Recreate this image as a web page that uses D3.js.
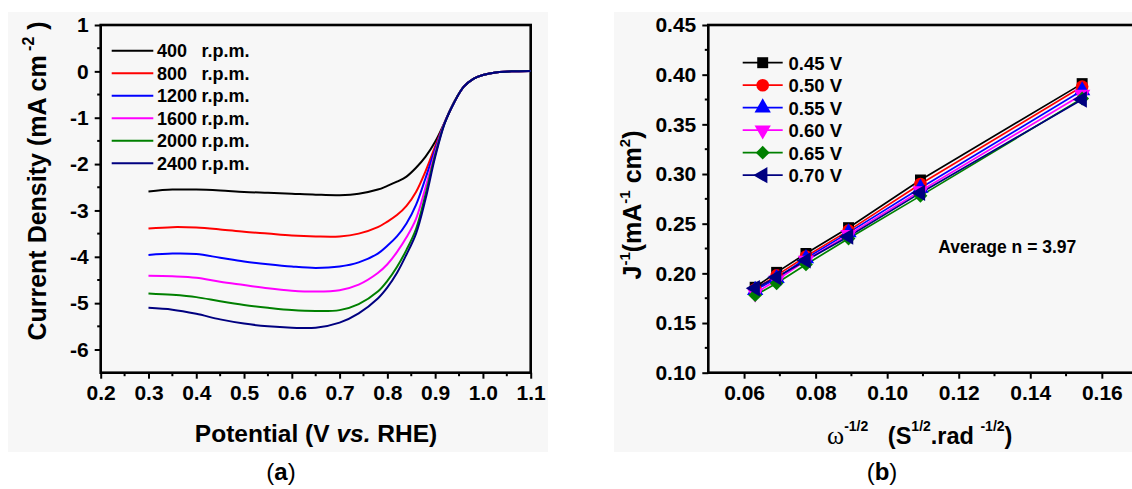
<!DOCTYPE html>
<html>
<head>
<meta charset="utf-8">
<script src="https://cdn.jsdelivr.net/npm/d3@7"></script>
<style>
  html, body { margin: 0; padding: 0; background: #ffffff; }
  svg { display: block; }
  text { font-family: "Liberation Sans", Arial, sans-serif; white-space: pre; }
</style>
</head>
<body>
<svg id="fig" width="1132" height="489"></svg>
<script>
// ---------- Panel (a): LSV curves at different rotation rates ----------
const rpmLabels = ["400", "800", "1200", "1600", "2000", "2400"];
const lsvColors = ["#000000", "#ff0000", "#0000ff", "#ff00ff", "#008000", "#000080"];
const potential = [0.30, 0.35, 0.40, 0.45, 0.50, 0.55, 0.60, 0.65, 0.70, 0.74, 0.78, 0.80,
                   0.82, 0.84, 0.86, 0.88, 0.90, 0.92, 0.94, 0.96, 0.98, 1.00, 1.03, 1.06, 1.10];
const j400  = [-2.59, -2.55, -2.55, -2.57, -2.60, -2.62, -2.64, -2.66, -2.67, -2.64, -2.55, -2.47,
               -2.38, -2.27, -2.08, -1.84, -1.52, -1.10, -0.66, -0.33, -0.16, -0.08, -0.02, 0.00, 0.01];
const j800  = [-3.39, -3.36, -3.37, -3.41, -3.46, -3.50, -3.54, -3.56, -3.56, -3.50, -3.36, -3.24,
               -3.10, -2.90, -2.60, -2.15, -1.62, -1.10, -0.66, -0.33, -0.16, -0.08, -0.02, 0.00, 0.01];
const j1200 = [-3.96, -3.93, -3.94, -4.02, -4.10, -4.16, -4.21, -4.24, -4.21, -4.12, -3.93, -3.76,
               -3.56, -3.28, -2.88, -2.30, -1.68, -1.10, -0.66, -0.33, -0.16, -0.08, -0.02, 0.00, 0.01];
const j1600 = [-4.41, -4.42, -4.45, -4.54, -4.61, -4.68, -4.73, -4.75, -4.72, -4.60, -4.35, -4.16,
               -3.90, -3.58, -3.18, -2.50, -1.75, -1.10, -0.66, -0.33, -0.16, -0.08, -0.02, 0.00, 0.01];
const j2000 = [-4.79, -4.82, -4.87, -4.96, -5.04, -5.10, -5.15, -5.17, -5.15, -5.02, -4.75, -4.52,
               -4.22, -3.85, -3.40, -2.65, -1.80, -1.11, -0.66, -0.33, -0.16, -0.08, -0.02, 0.00, 0.01];
const j2400 = [-5.10, -5.14, -5.23, -5.35, -5.44, -5.50, -5.53, -5.53, -5.42, -5.22, -4.90, -4.66,
               -4.35, -3.95, -3.50, -2.75, -1.85, -1.12, -0.67, -0.33, -0.16, -0.08, -0.02, 0.00, 0.01];
const lsvSeries = [j400, j800, j1200, j1600, j2000, j2400];
const lsvXTicks = [0.2, 0.3, 0.4, 0.5, 0.6, 0.7, 0.8, 0.9, 1.0, 1.1];
const lsvYTicks = [-6, -5, -4, -3, -2, -1, 0, 1];

// ---------- Panel (b): Koutecky-Levich plots ----------
const klLabels = ["0.45 V", "0.50 V", "0.55 V", "0.60 V", "0.65 V", "0.70 V"];
const klColors = ["#000000", "#ff0000", "#0000ff", "#ff00ff", "#008000", "#000080"];
const omegaInvSqrt = [0.0631, 0.0691, 0.0773, 0.0892, 0.1093, 0.1545];
const kl045 = [0.186, 0.201, 0.220, 0.246, 0.294, 0.391];
const kl050 = [0.184, 0.198, 0.217, 0.243, 0.290, 0.388];
const kl055 = [0.183, 0.195, 0.215, 0.241, 0.286, 0.384];
const kl060 = [0.180, 0.193, 0.213, 0.239, 0.283, 0.380];
const kl065 = [0.178, 0.190, 0.209, 0.235, 0.278, 0.376];
const kl070 = [0.185, 0.196, 0.213, 0.237, 0.281, 0.375];
const klSeries = [kl045, kl050, kl055, kl060, kl065, kl070];
const klXTicks = [0.06, 0.08, 0.10, 0.12, 0.14, 0.16];
const klYTicks = [0.10, 0.15, 0.20, 0.25, 0.30, 0.35, 0.40, 0.45];

const svg = d3.select("#fig");
const panelFill = "#f7f7f7";
const tickFont = 21;

// light panel backgrounds
svg.append("rect").attr("x", 8).attr("y", 12).attr("width", 540).attr("height", 440).attr("fill", panelFill);
svg.append("rect").attr("x", 614).attr("y", 12).attr("width", 518).attr("height", 440).attr("fill", panelFill);

function styleAxis(g, fontSize) {
  g.select(".domain").remove();
  g.selectAll(".tick line").attr("stroke", "#000").attr("stroke-width", 2);
  g.selectAll(".tick text")
    .attr("fill", "#000")
    .attr("font-family", "'Liberation Sans', Arial, sans-serif")
    .attr("font-weight", "bold")
    .attr("font-size", fontSize);
}

function minorTicks(g, values, scale, orient, len) {
  g.selectAll(null).data(values).enter().append("line")
    .attr("stroke", "#000").attr("stroke-width", 2)
    .each(function (d) {
      const s = d3.select(this);
      if (orient === "bottom") s.attr("x1", scale(d)).attr("x2", scale(d)).attr("y1", 0).attr("y2", len);
      else s.attr("y1", scale(d)).attr("y2", scale(d)).attr("x1", 0).attr("x2", -len);
    });
}

// ===== Panel (a) =====
const xL = d3.scaleLinear().domain([0.2, 1.1]).range([100.7, 530.7]);
const yL = d3.scaleLinear().domain([-6.5, 1]).range([372.7, 25]);

const gxL = svg.append("g").attr("transform", `translate(0,${yL(-6.5)})`)
  .call(d3.axisBottom(xL).tickValues(lsvXTicks).tickFormat(d3.format(".1f")).tickSize(6).tickPadding(6));
styleAxis(gxL, tickFont);
minorTicks(gxL, d3.range(0.25, 1.1, 0.1), xL, "bottom", 3.5);

const gyL = svg.append("g").attr("transform", `translate(${xL(0.2)},0)`)
  .call(d3.axisLeft(yL).tickValues(lsvYTicks).tickFormat(d => String(d)).tickSize(6).tickPadding(6));
styleAxis(gyL, tickFont);
minorTicks(gyL, d3.range(-5.5, 1, 1), yL, "left", 3.5);

svg.append("rect")
  .attr("x", xL(0.2)).attr("y", yL(1))
  .attr("width", xL(1.1) - xL(0.2)).attr("height", yL(-6.5) - yL(1))
  .attr("fill", "none").attr("stroke", "#000").attr("stroke-width", 2.6);

const lsvLine = d3.line()
  .x((d, i) => xL(potential[i]))
  .y(d => yL(d))
  .curve(d3.curveCatmullRom.alpha(0.5));

lsvSeries.forEach((s, k) => {
  svg.append("path").datum(s)
    .attr("d", lsvLine)
    .attr("fill", "none")
    .attr("stroke", lsvColors[k])
    .attr("stroke-width", 2);
});

// legend (a)
const legA = svg.append("g");
rpmLabels.forEach((lab, k) => {
  const y = 50.7 + k * 22.5;
  legA.append("line").attr("x1", 111.7).attr("x2", 153.3).attr("y1", y).attr("y2", y)
    .attr("stroke", lsvColors[k]).attr("stroke-width", 2);
  legA.append("text").attr("x", 157).attr("y", y + 6.5)
    .attr("font-size", 18).attr("font-weight", "bold").text(lab);
  legA.append("text").attr("x", 201.5).attr("y", y + 6.5)
    .attr("font-size", 18).attr("font-weight", "bold").text("r.p.m.");
});

// axis titles (a)
const ytA = svg.append("text")
  .attr("transform", `translate(46,181) rotate(-90)`)
  .attr("text-anchor", "middle")
  .attr("font-size", 25).attr("font-weight", "bold");
ytA.append("tspan").text("Current Density (mA cm");
ytA.append("tspan").attr("font-size", 16).attr("dy", -12).text(" -2");
ytA.append("tspan").attr("dy", 12).text(" )");

const xtA = svg.append("text")
  .attr("x", 316).attr("y", 442)
  .attr("text-anchor", "middle")
  .attr("font-size", 24.5).attr("font-weight", "bold");
xtA.append("tspan").text("Potential (V ");
xtA.append("tspan").attr("font-style", "italic").text("vs.");
xtA.append("tspan").text(" RHE)");

const capA = svg.append("text")
  .attr("x", 281).attr("y", 480).attr("text-anchor", "middle")
  .attr("font-family", "'Liberation Serif', 'Times New Roman', serif").attr("font-size", 24);
capA.append("tspan").text("(");
capA.append("tspan").attr("font-weight", "bold").text("a");
capA.append("tspan").text(")");

// ===== Panel (b) =====
const xR = d3.scaleLinear().domain([0.05, 0.17]).range([708.3, 1137.6]);
const yR = d3.scaleLinear().domain([0.10, 0.45]).range([372.7, 25]);

const gxR = svg.append("g").attr("transform", `translate(0,${yR(0.10)})`)
  .call(d3.axisBottom(xR).tickValues(klXTicks).tickFormat(d3.format(".2f")).tickSize(6).tickPadding(6));
styleAxis(gxR, tickFont);
minorTicks(gxR, d3.range(0.07, 0.171, 0.02), xR, "bottom", 3.5);

const gyR = svg.append("g").attr("transform", `translate(${xR(0.05)},0)`)
  .call(d3.axisLeft(yR).tickValues(klYTicks).tickFormat(d3.format(".2f")).tickSize(6).tickPadding(6));
styleAxis(gyR, tickFont);
minorTicks(gyR, d3.range(0.125, 0.45, 0.05), yR, "left", 3.5);

svg.append("rect")
  .attr("x", xR(0.05)).attr("y", yR(0.45))
  .attr("width", xR(0.17) - xR(0.05)).attr("height", yR(0.10) - yR(0.45))
  .attr("fill", "none").attr("stroke", "#000").attr("stroke-width", 2.6);

const markerShapes = [
  { type: d3.symbolSquare, size: 120, rot: 0 },
  { type: d3.symbolCircle, size: 125, rot: 0 },
  { type: d3.symbolTriangle, size: 115, rot: 0 },
  { type: d3.symbolTriangle, size: 115, rot: 180 },
  { type: d3.symbolSquare, size: 95, rot: 45 },
  { type: d3.symbolTriangle, size: 115, rot: -90 }
];

const klLine = d3.line().x((d, i) => xR(omegaInvSqrt[i])).y(d => yR(d));

klSeries.forEach((s, k) => {
  svg.append("path").datum(s)
    .attr("d", klLine).attr("fill", "none")
    .attr("stroke", klColors[k]).attr("stroke-width", 1.7);
});
klSeries.forEach((s, k) => {
  const m = markerShapes[k];
  svg.append("g").selectAll("path").data(s).enter().append("path")
    .attr("d", d3.symbol().type(m.type).size(m.size))
    .attr("transform", (d, i) => `translate(${xR(omegaInvSqrt[i])},${yR(d)}) rotate(${m.rot})`)
    .attr("fill", klColors[k]);
});

// legend (b)
const legB = svg.append("g");
klLabels.forEach((lab, k) => {
  const y = 62.7 + k * 22.5;
  const m = markerShapes[k];
  legB.append("line").attr("x1", 742.7).attr("x2", 782.7).attr("y1", y).attr("y2", y)
    .attr("stroke", klColors[k]).attr("stroke-width", 1.7);
  legB.append("path")
    .attr("d", d3.symbol().type(m.type).size(m.size))
    .attr("transform", `translate(762.7,${y}) rotate(${m.rot})`)
    .attr("fill", klColors[k]);
  legB.append("text").attr("x", 788.5).attr("y", y + 6.8)
    .attr("font-size", 18.5).attr("font-weight", "bold").text(lab);
});

svg.append("text").attr("x", 938.3).attr("y", 252.7)
  .attr("font-size", 17.5).attr("font-weight", "bold").text("Average n = 3.97");

// axis titles (b)
const ytB = svg.append("text")
  .attr("transform", `translate(641,205) rotate(-90)`)
  .attr("text-anchor", "middle")
  .attr("font-size", 25).attr("font-weight", "bold");
ytB.append("tspan").text("J");
ytB.append("tspan").attr("font-size", 15).attr("dy", -11).text("-1");
ytB.append("tspan").attr("dy", 11).text("(mA");
ytB.append("tspan").attr("font-size", 15).attr("dy", -11).text("-1");
ytB.append("tspan").attr("dy", 11).text(" cm");
ytB.append("tspan").attr("font-size", 15).attr("dy", -11).text("2");
ytB.append("tspan").attr("dy", 11).text(")");

const xtB = svg.append("text")
  .attr("x", 827).attr("y", 444)
  .attr("font-size", 23.5).attr("font-weight", "bold");
xtB.append("tspan").attr("font-family", "'Liberation Serif', 'Times New Roman', serif")
  .attr("font-weight", "normal").attr("font-size", 26).text("ω");
xtB.append("tspan").attr("font-size", 14).attr("dy", -13).text("-1/2");
xtB.append("tspan").attr("dy", 13).text("   (S");
xtB.append("tspan").attr("font-size", 14).attr("dy", -13).text("1/2");
xtB.append("tspan").attr("dy", 13).text(".rad ");
xtB.append("tspan").attr("font-size", 14).attr("dy", -13).text("-1/2");
xtB.append("tspan").attr("dy", 13).text(")");

const capB = svg.append("text")
  .attr("x", 882).attr("y", 480).attr("text-anchor", "middle")
  .attr("font-family", "'Liberation Serif', 'Times New Roman', serif").attr("font-size", 24);
capB.append("tspan").text("(");
capB.append("tspan").attr("font-weight", "bold").text("b");
capB.append("tspan").text(")");
</script>
</body>
</html>
